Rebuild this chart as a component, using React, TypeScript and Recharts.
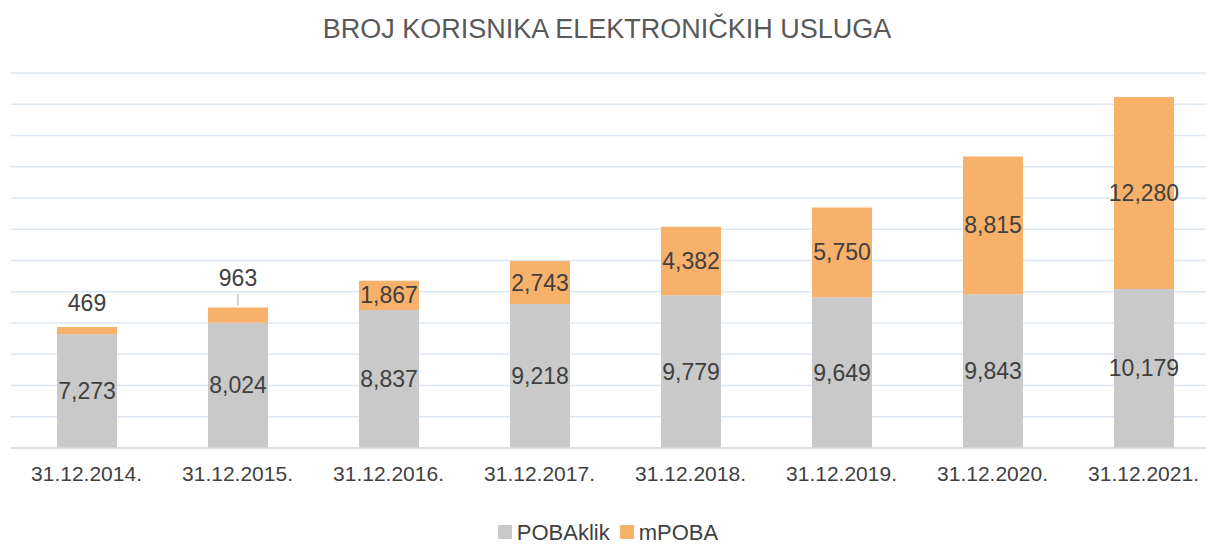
import React from 'react';
import { BarChart, Bar, XAxis, YAxis, CartesianGrid, LabelList } from 'recharts';

const dates = [
  '31.12.2014.',
  '31.12.2015.',
  '31.12.2016.',
  '31.12.2017.',
  '31.12.2018.',
  '31.12.2019.',
  '31.12.2020.',
  '31.12.2021.',
];
const pobaKlik = [7273, 8024, 8837, 9218, 9779, 9649, 9843, 10179];
const mPoba = [469, 963, 1867, 2743, 4382, 5750, 8815, 12280];
const yTicks = [0, 2000, 4000, 6000, 8000, 10000, 12000, 14000, 16000, 18000, 20000, 22000, 24000];

const data = dates.map((date, i) => ({ date, pobaKlik: pobaKlik[i], mPoba: mPoba[i] }));

const GREY = '#C9C9C9';
const ORANGE = '#F7B16B';
const TEXT = '#404040';
const FONT = '"Liberation Sans", Arial, sans-serif';

const fmt = (v: number) => v.toLocaleString('en-US');

const InsideLabel = (props: any) => {
  const { x, y, width, height, value } = props;
  return (
    <text
      x={x + width / 2}
      y={y + height / 2}
      textAnchor="middle"
      dominantBaseline="central"
      fontSize={23}
      fill={TEXT}
      fontFamily={FONT}
    >
      {fmt(value)}
    </text>
  );
};

// small segments get their label above the bar, with a leader line when there is room
const TopLabel = (props: any) => {
  const { x, y, width, height, value } = props;
  const cx = x + width / 2;
  if (height >= 20) return <InsideLabel {...props} />;
  const withLine = height > 10;
  const ly = withLine ? y - 30 : y - 24;
  return (
    <g>
      {withLine && <line x1={cx} x2={cx} y1={y - 14} y2={y - 2} stroke="#A6A6A6" strokeWidth={1} />}
      <text
        x={cx}
        y={ly}
        textAnchor="middle"
        dominantBaseline="central"
        fontSize={23}
        fill={TEXT}
        fontFamily={FONT}
      >
        {fmt(value)}
      </text>
    </g>
  );
};

const LegendItem = ({ color, label }: { color: string; label: string }) => (
  <span style={{ display: 'inline-flex', alignItems: 'center', marginRight: 10 }}>
    <span style={{ width: 14, height: 14, background: color, display: 'inline-block', marginRight: 5 }} />
    <span>{label}</span>
  </span>
);

export default function App() {
  return (
    <div
      style={{
        position: 'absolute',
        left: 0,
        top: 0,
        width: 1206,
        height: 545,
        overflow: 'hidden',
        background: '#fff',
        fontFamily: FONT,
      }}
    >
      <div
        style={{
          position: 'absolute',
          top: 12,
          left: 0,
          width: 1214,
          textAlign: 'center',
          fontSize: 27,
          color: '#595959',
          lineHeight: '34px',
        }}
      >
        BROJ KORISNIKA ELEKTRONIČKIH USLUGA
      </div>
      <BarChart
        width={1230}
        height={545}
        data={data}
        margin={{ top: 73, right: 11, bottom: 67, left: 11 }}
        barSize={60}
      >
        <CartesianGrid vertical={false} stroke="#DEE8F3" strokeWidth={1.5} />
        <YAxis hide domain={[0, 24000]} ticks={yTicks} />
        <XAxis
          dataKey="date"
          axisLine={{ stroke: '#D9D9D9', strokeWidth: 1.5 }}
          tickLine={false}
          tickMargin={12}
          tick={{ fontSize: 21, fill: TEXT, fontFamily: FONT }}
          interval={0}
        />
        <Bar dataKey="pobaKlik" stackId="a" fill={GREY} isAnimationActive={false}>
          <LabelList dataKey="pobaKlik" content={InsideLabel} />
        </Bar>
        <Bar dataKey="mPoba" stackId="a" fill={ORANGE} isAnimationActive={false}>
          <LabelList dataKey="mPoba" content={TopLabel} />
        </Bar>
      </BarChart>
      <div
        style={{
          position: 'absolute',
          top: 519,
          left: 0,
          width: 1226,
          textAlign: 'center',
          fontSize: 22,
          color: TEXT,
          lineHeight: '25px',
        }}
      >
        <LegendItem color={GREY} label="POBAklik" />
        <LegendItem color={ORANGE} label="mPOBA" />
      </div>
    </div>
  );
}
